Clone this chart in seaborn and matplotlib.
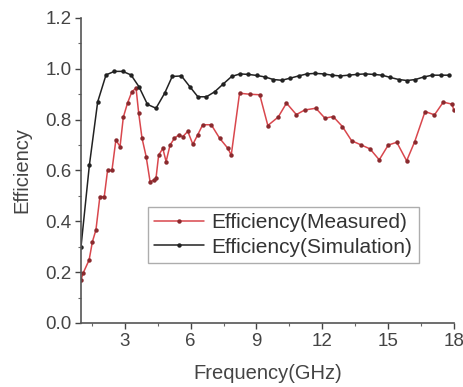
import matplotlib
matplotlib.use("Agg")
import matplotlib.pyplot as plt
import seaborn as sns
import pandas as pd
from matplotlib.ticker import MultipleLocator

# Simulated efficiency
sim_freq = [1.0, 1.38, 1.76, 2.14, 2.52, 2.9, 3.28, 3.64, 4.03, 4.42, 4.82, 5.16,
            5.58, 5.96, 6.33, 6.72, 7.1, 7.48, 7.87, 8.25, 8.63, 9.01, 9.39, 9.77,
            10.15, 10.53, 10.92, 11.3, 11.68, 12.06, 12.44, 12.82, 13.2, 13.58,
            13.96, 14.35, 14.73, 15.11, 15.49, 15.87, 16.25, 16.63, 17.02, 17.4,
            17.78]
sim_eff = [0.30, 0.62, 0.87, 0.976, 0.99, 0.99, 0.976, 0.93, 0.86, 0.845, 0.905,
           0.97, 0.972, 0.93, 0.89, 0.89, 0.91, 0.94, 0.97, 0.98, 0.978, 0.974,
           0.968, 0.958, 0.955, 0.963, 0.972, 0.98, 0.982, 0.98, 0.975, 0.972,
           0.975, 0.978, 0.98, 0.978, 0.975, 0.966, 0.958, 0.954, 0.958, 0.968,
           0.975, 0.975, 0.975]

# Measured efficiency
meas_freq = [1.0, 1.1, 1.37, 1.52, 1.68, 1.86, 2.06, 2.21, 2.41, 2.59, 2.78, 2.93,
             3.12, 3.32, 3.51, 3.63, 3.78, 3.97, 4.15, 4.35, 4.42, 4.54, 4.73,
             4.88, 5.06, 5.26, 5.46, 5.64, 5.87, 6.1, 6.32, 6.55, 6.94, 7.32,
             7.7, 7.85, 8.23, 8.69, 9.15, 9.52, 9.99, 10.37, 10.82, 11.2, 11.71,
             12.12, 12.5, 12.92, 13.34, 13.79, 14.18, 14.6, 15.01, 15.4, 15.85,
             16.22, 16.69, 17.12, 17.52, 17.92, 18.0]
meas_eff = [0.17, 0.197, 0.248, 0.32, 0.366, 0.497, 0.497, 0.60, 0.60, 0.72, 0.694,
            0.81, 0.865, 0.91, 0.924, 0.826, 0.728, 0.655, 0.556, 0.563, 0.57,
            0.66, 0.687, 0.635, 0.70, 0.727, 0.74, 0.733, 0.754, 0.703, 0.74,
            0.78, 0.78, 0.727, 0.687, 0.66, 0.904, 0.90, 0.898, 0.777, 0.81,
            0.865, 0.82, 0.838, 0.845, 0.806, 0.812, 0.773, 0.717, 0.70, 0.685,
            0.642, 0.70, 0.711, 0.638, 0.714, 0.832, 0.819, 0.869, 0.861, 0.838]

x_major = [3, 6, 9, 12, 15, 18]
y_major = [0.0, 0.2, 0.4, 0.6, 0.8, 1.0, 1.2]

meas_df = pd.DataFrame({"Frequency": meas_freq, "Efficiency": meas_eff})
sim_df = pd.DataFrame({"Frequency": sim_freq, "Efficiency": sim_eff})

sns.set_style("ticks")
plt.rcParams["font.family"] = ["Liberation Sans", "DejaVu Sans"]

fig = plt.figure(figsize=(4.64, 3.87), dpi=100)
ax = fig.add_axes([0.1746, 0.1654, 0.8034, 0.7881])

sns.lineplot(data=meas_df, x="Frequency", y="Efficiency", ax=ax, color="#d9474d",
             lw=1.1, marker="o", markersize=3.2, markeredgewidth=0,
             markerfacecolor="#8a2a2e", label="Efficiency(Measured)")
sns.lineplot(data=sim_df, x="Frequency", y="Efficiency", ax=ax, color="#222222",
             lw=1.1, marker="o", markersize=3.2, markeredgewidth=0,
             label="Efficiency(Simulation)")

ax.set_xlim(1, 18)
ax.set_ylim(0, 1.2)
ax.set_xticks(x_major)
ax.set_yticks(y_major)
ax.set_yticklabels([f"{v:.1f}" for v in y_major])
ax.xaxis.set_minor_locator(MultipleLocator(1.5))
ax.yaxis.set_minor_locator(MultipleLocator(0.1))
ax.tick_params(which="major", direction="out", length=4, width=1.0,
               labelsize=13.5, colors="#444444", pad=3)
ax.tick_params(which="minor", direction="out", length=2.5, width=0.8,
               colors="#666666")
sns.despine(ax=ax)
for s in ("left", "bottom"):
    ax.spines[s].set_linewidth(1.2)
    ax.spines[s].set_color("#555555")

ax.set_xlabel("Frequency(GHz)", fontsize=14.5, color="#444444", labelpad=10)
ax.set_ylabel("Efficiency", fontsize=14.5, color="#444444", labelpad=10)

leg = ax.legend(loc="upper left", bbox_to_anchor=(0.18, 0.38), fontsize=15,
                frameon=True, fancybox=False, handlelength=2.4,
                borderpad=0.3, labelspacing=0.25, handletextpad=0.35,
                borderaxespad=0)
leg.get_frame().set_edgecolor("#999999")
leg.get_frame().set_linewidth(1.0)
for t in leg.get_texts():
    t.set_color("#333333")

fig.savefig("out.png", dpi=100)
